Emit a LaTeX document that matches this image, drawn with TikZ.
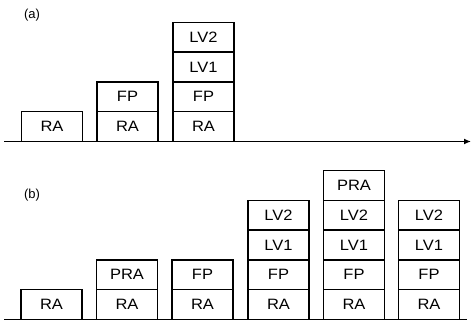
\documentclass[tikz,border=0pt]{standalone}
\usepackage{fontspec}
\setmainfont{Liberation Sans}
\usetikzlibrary{arrows.meta}
\newcommand{\wtxt}[1]{\scalebox{1.1}[1]{#1}}
\begin{document}
\begin{tikzpicture}[x=1pt,y=-1pt,
  blk/.style={draw, line width=1.5pt, rectangle, inner sep=0pt,
    minimum width=61pt, minimum height=29.8pt,
    font=\fontsize{15}{17}\selectfont},
  axisline/.style={line width=1.8pt},
  lbl/.style={font=\fontsize{13}{15}\selectfont, inner sep=0pt}]
\useasboundingbox (0,0) rectangle (471,322);
\def\h{29.8}
% panel (a)
\node[lbl] (la) at (32,15) {(a)};
\coordinate (a0) at (4,141.5);
\coordinate (a1) at (471,141.5);
\foreach \t [count=\i] in {RA}
  \node[blk] (a1-\i) at (52,141.5-\i*\h+0.5*\h) {\wtxt{\t}};
\foreach \t [count=\i] in {RA,FP}
  \node[blk] (a2-\i) at (127.5,141.5-\i*\h+0.5*\h) {\wtxt{\t}};
\foreach \t [count=\i] in {RA,FP,LV1,LV2}
  \node[blk] (a3-\i) at (203.5,141.5-\i*\h+0.5*\h) {\wtxt{\t}};
\draw[axisline,-{Latex[length=7pt,width=6pt]}] (a0) -- (a1);
% panel (b)
\node[lbl] (lb) at (32,195) {(b)};
\coordinate (b0) at (4,319.5);
\coordinate (b1) at (467,319.5);
\foreach \t [count=\i] in {RA}
  \node[blk] (b1-\i) at (51.5,319.5-\i*\h+0.5*\h) {\wtxt{\t}};
\foreach \t [count=\i] in {RA,PRA}
  \node[blk] (b2-\i) at (127,319.5-\i*\h+0.5*\h) {\wtxt{\t}};
\foreach \t [count=\i] in {RA,FP}
  \node[blk] (b3-\i) at (202.5,319.5-\i*\h+0.5*\h) {\wtxt{\t}};
\foreach \t [count=\i] in {RA,FP,LV1,LV2}
  \node[blk] (b4-\i) at (278.5,319.5-\i*\h+0.5*\h) {\wtxt{\t}};
\foreach \t [count=\i] in {RA,FP,LV1,LV2,PRA}
  \node[blk] (b5-\i) at (354,319.5-\i*\h+0.5*\h) {\wtxt{\t}};
\foreach \t [count=\i] in {RA,FP,LV1,LV2}
  \node[blk] (b6-\i) at (429,319.5-\i*\h+0.5*\h) {\wtxt{\t}};
\draw[axisline] (b0) -- (b1);
\end{tikzpicture}
\end{document}
